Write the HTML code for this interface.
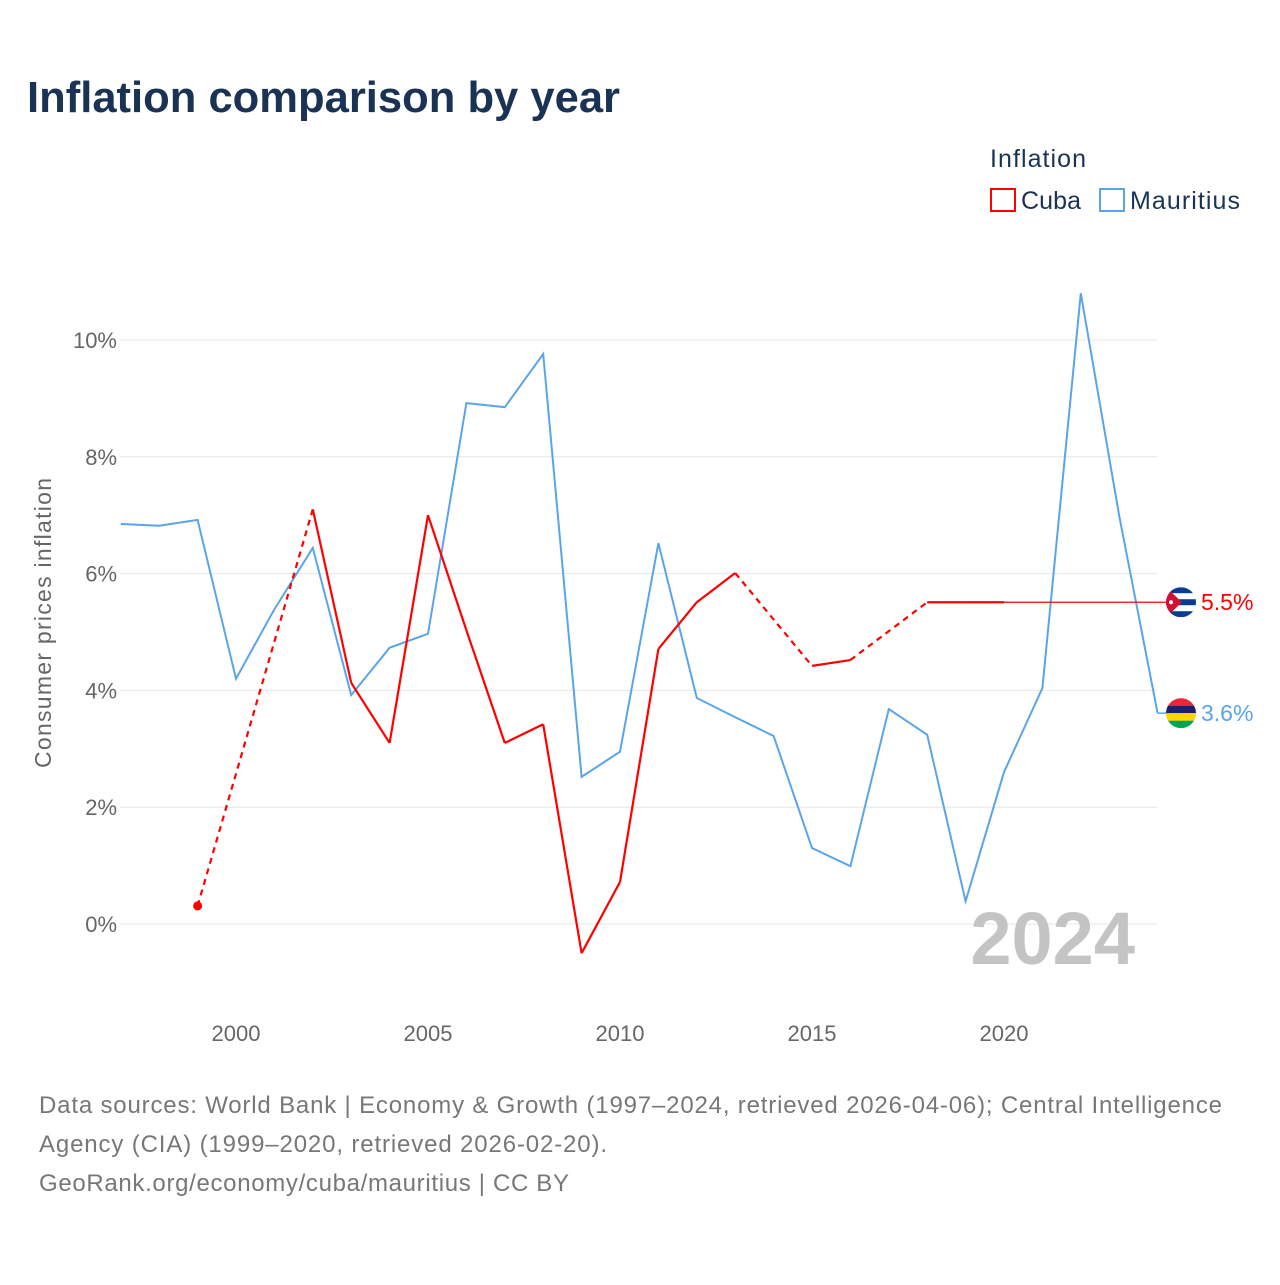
<!DOCTYPE html>
<html><head><meta charset="utf-8">
<style>
body{margin:0;background:#fff;font-family:"Liberation Sans",sans-serif;}
svg text{font-family:"Liberation Sans",sans-serif;}
</style></head>
<body>
<svg width="1280" height="1280" viewBox="0 0 1280 1280">
<text x="27" y="112" font-size="44" font-weight="bold" fill="#1a3354" textLength="593" lengthAdjust="spacingAndGlyphs">Inflation comparison by year</text>
<text x="990" y="167" font-size="25" fill="#1a3354" textLength="96">Inflation</text>
<g><rect x="991" y="189" width="24" height="22" fill="none" stroke="#ff0000" stroke-width="2"/><text x="1021" y="209" font-size="25" fill="#1a3354" textLength="60">Cuba</text></g>
<g><rect x="1100" y="189" width="24" height="22" fill="none" stroke="#5aa5ea" stroke-width="2"/><text x="1130" y="209" font-size="25" fill="#1a3354" textLength="110">Mauritius</text></g>
<g id="grid"></g>
<g id="axes"></g>
<text x="1135" y="964" font-size="74" font-weight="bold" fill="#c4c4c4" text-anchor="end">2024</text>
<text transform="translate(51,623) rotate(-90)" font-size="23" fill="#666" text-anchor="middle" textLength="290">Consumer prices inflation</text>
<g id="series"></g>
<g font-size="24" fill="#777">
<text x="39" y="1113" textLength="1183">Data sources: World Bank | Economy &amp; Growth (1997–2024, retrieved 2026-04-06); Central Intelligence</text>
<text x="39" y="1152" textLength="568">Agency (CIA) (1999–2020, retrieved 2026-02-20).</text>
<text x="39" y="1191" textLength="530">GeoRank.org/economy/cuba/mauritius | CC BY</text>
</g>
</svg>
<script>
const years=[1997,1998,1999,2000,2001,2002,2003,2004,2005,2006,2007,2008,2009,2010,2011,2012,2013,2014,2015,2016,2017,2018,2019,2020,2021,2022,2023,2024];
const mauritius=[6.85,6.82,6.92,4.2,5.39,6.44,3.92,4.73,4.97,8.92,8.85,9.76,2.52,2.95,6.52,3.87,3.54,3.22,1.30,0.99,3.68,3.24,0.39,2.60,4.04,10.8,6.99,3.61];
const cuba=[null,null,0.31,null,null,7.1,4.13,3.1,7.0,5.03,3.1,3.42,-0.5,0.72,4.71,5.51,6.01,null,4.42,4.52,null,5.51,5.51,5.51,null,null,null,null];
const yTicks=[0,2,4,6,8,10];
const xTicks=[2000,2005,2010,2015,2020];
const X=y=>120.8+(y-1997)*38.4;
const Y=v=>924-v*58.4;
const NS="http://www.w3.org/2000/svg";
function mk(tag,attrs,parent){const e=document.createElementNS(NS,tag);for(const k in attrs)e.setAttribute(k,attrs[k]);parent.appendChild(e);return e;}
const grid=document.getElementById('grid'),axes=document.getElementById('axes'),ser=document.getElementById('series');
yTicks.forEach(t=>{
 const l=mk('line',{x1:120,x2:1157,y1:Y(t),y2:Y(t),stroke:'#e6e6e6','stroke-width':1},grid);
 
 
 const tx=mk('text',{x:117,y:Y(t)+8,'font-size':22,fill:'#666','text-anchor':'end'},axes);
 tx.textContent=t+'%';
 
 
});
xTicks.forEach(t=>{
 const tx=mk('text',{x:X(t),y:1041,'font-size':22,fill:'#666','text-anchor':'middle'},axes);
 tx.textContent=t;
 
 
});
let d=mauritius.map((v,i)=>(i?'L':'M')+X(years[i])+','+Y(v)).join(' ');
const ml=mk('path',{d:d,fill:'none',stroke:'#5aa5ea','stroke-width':2},ser);


const mLast=mauritius[mauritius.length-1];
mk('line',{x1:X(2024),x2:1170,y1:Y(mLast),y2:Y(mLast),stroke:'#5aa5ea','stroke-width':1.5},ser);
let prev=null,lastIdx=-1;
cuba.forEach((v,i)=>{
 if(v===null)return;
 if(prev!==null){
  const dashed=i-prev>1;
  const s=mk('line',{x1:X(years[prev]),y1:Y(cuba[prev]),x2:X(years[i]),y2:Y(v),stroke:'#ff0000','stroke-width':2.2,'stroke-dasharray':dashed?'6,5':'none'},ser);
  
  
 }
 prev=i;lastIdx=i;
});
const first=cuba.findIndex(v=>v!==null);
const dot=mk('circle',{cx:X(years[first]),cy:Y(cuba[first]),r:4.5,fill:'#ff0000'},ser);


const cLast=cuba[lastIdx];
mk('line',{x1:X(years[lastIdx]),x2:1170,y1:Y(cLast),y2:Y(cLast),stroke:'#ff0000','stroke-width':1.2},ser);
function flag(cy,name,color,val,stripes){
 const g=mk('g',{},ser);
 
 
 const cid='c'+name;
 const cp=mk('clipPath',{id:cid},g);mk('circle',{cx:1181,cy:cy,r:15},cp);
 const inner=mk('g',{'clip-path':'url(#'+cid+')'},g);
 stripes(inner,cy);
 const t=mk('text',{x:1201,y:cy+8,'font-size':23,fill:color},ser);
 t.textContent=val.toFixed(1)+'%';
 
 
}
flag(Y(cLast),'cuba-flag','#ff0000',cLast,(g,cy)=>{
 mk('rect',{x:1166,y:cy-15,width:30,height:30,fill:'#fff'},g);
 [0,2,4].forEach(k=>mk('rect',{x:1166,y:cy-15+k*6,width:30,height:6,fill:'#0a3d91'},g));
 mk('polygon',{points:`1166,${cy-15} 1182,${cy} 1166,${cy+15}`,fill:'#d21034'},g);
 mk('circle',{cx:1171,cy:cy,r:2,fill:'#fff'},g);
});
flag(Y(mLast),'mauritius-flag','#5aa5ea',mLast,(g,cy)=>{
 ['#ea2839','#1a206d','#ffd500','#00a551'].forEach((c,k)=>mk('rect',{x:1166,y:cy-15+k*7.5,width:30,height:7.5,fill:c},g));
});
</script>
</body></html>
